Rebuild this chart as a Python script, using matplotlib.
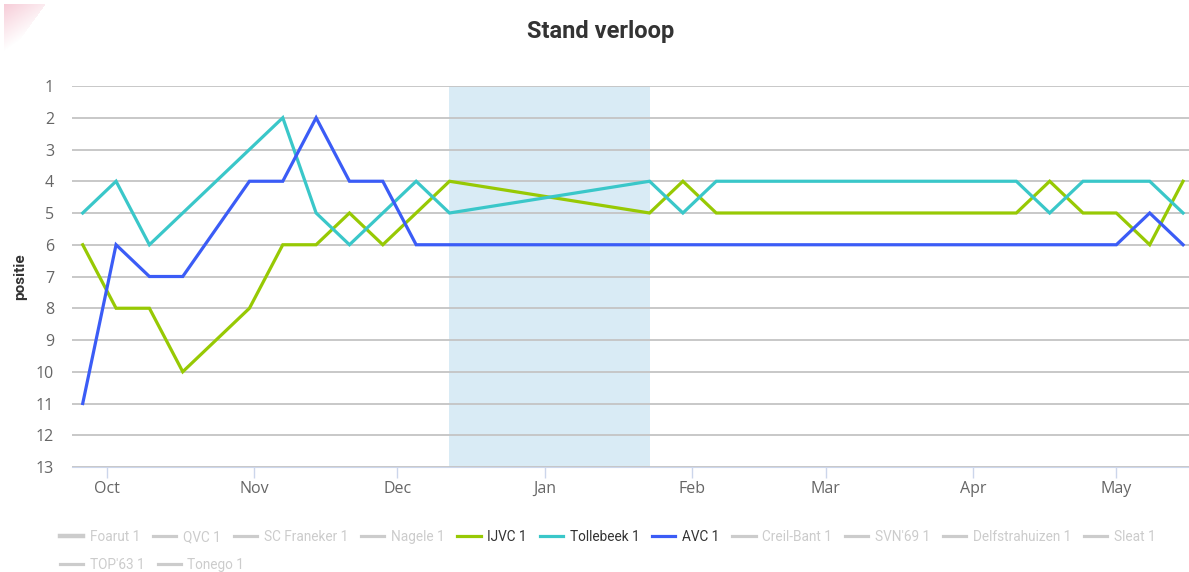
import numpy as np
import pandas as pd
import matplotlib
matplotlib.use('Agg')
import matplotlib.pyplot as plt
import matplotlib.dates as mdates
from matplotlib.lines import Line2D

# weekly standings, season 2020/21 (None = no round played)
weeks = pd.date_range('2020-09-26', periods=34, freq='7D')
ijvc = [6, 8, 8, 10, 9, 8, 6, 6, 5, 6, 5, 4, None, None, None, None, None,
        5, 4, 5, 5, 5, 5, 5, 5, 5, 5, 5, 5, 4, 5, 5, 6, 4]
tollebeek = [5, 4, 6, 5, 4, 3, 2, 5, 6, 5, 4, 5, None, None, None, None, None,
             4, 5, 4, 4, 4, 4, 4, 4, 4, 4, 4, 4, 5, 4, 4, 4, 5]
avc = [11, 6, 7, 7, None, 4, 4, 2, 4, 4, 6, 6, None, None, None, None, None,
       6, 6, 6, 6, 6, 6, 6, 6, 6, 6, 6, 6, 6, 6, 6, 5, 6]

teams = ['Foarut 1', 'QVC 1', 'SC Franeker 1', 'Nagele 1', 'IJVC 1', 'Tollebeek 1',
         'AVC 1', 'Creil-Bant 1', "SVN'69 1", 'Delfstrahuizen 1', 'Sleat 1',
         "TOP'63 1", 'Tonego 1']
shown = {'IJVC 1': (ijvc, '#97c904'), 'Tollebeek 1': (tollebeek, '#3ac7c9'),
         'AVC 1': (avc, '#3b5cf6')}
winter_break = (pd.Timestamp('2020-12-12'), pd.Timestamp('2021-01-23'))

narrow = ['Roboto', 'DejaVu Sans']

fig = plt.figure(figsize=(11.89, 5.72), dpi=100)
ax = fig.add_axes([72 / 1189, 105 / 572, 1 - 72 / 1189, 381 / 572])

ax.axvspan(*winter_break, color='#d9ebf5', lw=0, zorder=0)
for name, (vals, col) in shown.items():
    s = pd.Series(vals, index=weeks, dtype=float).dropna()
    ax.plot(s.index, s.values, color=col, lw=2.3, solid_joinstyle='miter', zorder=3)

ax.set_ylim(13, 1)
ax.set_yticks(range(1, 14))
ax.set_xlim(pd.Timestamp('2020-09-23 18:00'), pd.Timestamp('2021-05-16 06:00'))
ax.xaxis.set_major_locator(mdates.MonthLocator())
ax.xaxis.set_major_formatter(mdates.DateFormatter('%b'))
ax.grid(axis='y', color='#c4c4c4', lw=1.3)
ax.set_axisbelow(True)
for side in ['top', 'right', 'left']:
    ax.spines[side].set_visible(False)
ax.spines['bottom'].set_color('#ccd6eb')
ax.tick_params(axis='x', colors='#ccd6eb', length=8, width=1, labelcolor='#666666',
               labelsize=11.5, pad=2)
ax.tick_params(axis='y', length=0, labelcolor='#666666', labelsize=11.5, pad=13)
for lab in ax.get_xticklabels() + ax.get_yticklabels():
    lab.set_family('Open Sans')
ax.set_ylabel('positie', fontsize=11, fontweight='bold', color='#333333', labelpad=6,
              family=narrow)

fig.text(0.505, 0.945, 'Stand verloop', ha='center', va='center', fontsize=17,
         family=narrow, fontweight='bold', color='#333333')


def legend_row(names, top_px):
    hs = []
    for t in names:
        if t in shown:
            hs.append(Line2D([], [], color=shown[t][1], lw=2.3))
        else:
            hs.append(Line2D([], [], color='#cccccc', lw=3.2 if t == 'Foarut 1' else 2.3))
    lg = fig.legend(hs, names, ncol=len(names), loc='upper left',
                    bbox_to_anchor=(60 / 1189, 1 - top_px / 572), frameon=False,
                    prop={'family': narrow, 'size': 9.8}, handlelength=1.7,
                    handletextpad=0.5, columnspacing=0.95, borderaxespad=0,
                    borderpad=0)
    for txt, t in zip(lg.get_texts(), names):
        txt.set_color('#333333' if t in shown else '#cccccc')
    return lg


legend_row(teams[:11], 530)
legend_row(teams[11:], 558)

# soft pink corner accent
corner = fig.add_axes([4 / 1189, 1 - 56 / 572, 42 / 1189, 52 / 572])
yy, xx = np.mgrid[0:1:52j, 0:1:42j]
alpha = np.clip(1 - 1.1 * yy - 0.6 * xx, 0, 1) * (xx < 1 - 0.9 * yy)
img = np.zeros((52, 42, 4))
img[..., :3] = matplotlib.colors.to_rgb('#f3b8c8')
img[..., 3] = alpha * 0.7
corner.imshow(img, aspect='auto', interpolation='bilinear')
corner.axis('off')

fig.savefig('out.png', dpi=100)
